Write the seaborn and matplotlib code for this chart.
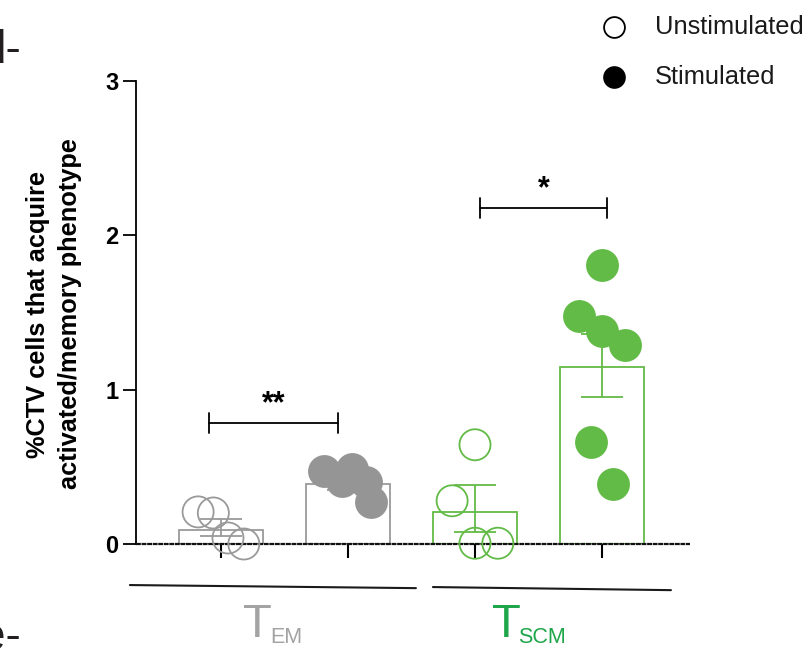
import numpy as np
import pandas as pd
import matplotlib
matplotlib.use("Agg")
import matplotlib.pyplot as plt
import seaborn as sns
from matplotlib.lines import Line2D

# ---- data ----
conditions = ["TEM Unstimulated", "TEM Stimulated", "TSCM Unstimulated", "TSCM Stimulated"]
bar_means = [0.09, 0.39, 0.21, 1.15]
err_low = [0.054, 0.35, 0.08, 0.95]
err_high = [0.162, 0.43, 0.383, 1.36]
tem_unstim = [0.208, 0.201, 0.039, 0.0]
tem_stim = [0.47, 0.485, 0.405, 0.40, 0.275]
tscm_unstim = [0.643, 0.28, 0.005, 0.005]
tscm_stim = [1.81, 1.48, 1.38, 1.29, 0.66, 0.39]
y_ticks = [0, 1, 2, 3]
legend_labels = ["Unstimulated", "Stimulated"]
group_labels = [("T", "EM"), ("T", "SCM")]
sig_labels = ["**", "*"]

# ---- styling / layout ----
GRAY = "#9a9a9a"
GRAY_FILL = "#959595"
GREEN = "#63bb47"
LABEL_GRAY = "#a3a3a3"
LABEL_GREEN = "#1fa64a"
edge_colors = [GRAY, GRAY, GREEN, GREEN]
point_series = [tem_unstim, tem_stim, tscm_unstim, tscm_stim]
point_faces = ["none", GRAY_FILL, "none", GREEN]
jitter = [
    [-0.18, -0.06, 0.055, 0.18],
    [-0.185, 0.03, -0.05, 0.14, 0.185],
    [0.0, -0.18, 0.0, 0.18],
    [0.0, -0.18, 0.0, 0.18, -0.09, 0.09],
]

sns.set_theme(style="white")
plt.rcParams["font.family"] = ["Liberation Sans", "DejaVu Sans"]

W, H = 812, 650
fig = plt.figure(figsize=(W / 100, H / 100), dpi=100)


def fx(px):
    return px / W


def fy(py):
    return 1 - py / H


ax = fig.add_axes([fx(136), fy(544), (690 - 136) / W, (544 - 81) / H])

df = pd.DataFrame({"condition": conditions, "mean": bar_means})
sns.barplot(data=df, x="condition", y="mean", order=conditions, color="white",
            width=0.66, errorbar=None, linewidth=1.3, ax=ax, zorder=1)
for patch, ec in zip(ax.patches, edge_colors):
    patch.set_facecolor("white")
    patch.set_edgecolor(ec)
    patch.set_linewidth(1.3)

# error bars
for i, (lo, hi, c) in enumerate(zip(err_low, err_high, edge_colors)):
    mid = (lo + hi) / 2
    ax.errorbar(i, mid, yerr=[[mid - lo], [hi - mid]], fmt="none", ecolor=c,
                elinewidth=1.3, capsize=15, capthick=1.3, zorder=2)

# individual points
for i, (vals, fc, ec, jit) in enumerate(zip(point_series, point_faces, edge_colors, jitter)):
    xs = [i + j for j in jit]
    sns.scatterplot(x=xs, y=vals, s=500, facecolor=fc,
                    edgecolor=ec if fc == "none" else fc,
                    linewidth=1.3, ax=ax, zorder=4, clip_on=False, legend=False)

ax.set_xlim(-0.669, 3.693)
ax.set_ylim(0, 3)
ax.set_xlabel("")
ax.set_ylabel("")
ax.set_yticks(y_ticks)
ax.set_yticklabels([str(t) for t in y_ticks], fontweight="bold", fontsize=17)
ax.set_xticks(range(len(conditions)))
ax.tick_params(axis="x", length=10, width=1.5, color="black", direction="out",
               labelbottom=False, bottom=True)
ax.tick_params(axis="y", length=9.5, width=1.3, color="black", direction="out",
               left=True, pad=3, labelcolor="black")
for s in ["top", "right", "bottom"]:
    ax.spines[s].set_visible(False)
ax.spines["left"].set_color("black")
ax.spines["left"].set_linewidth(1.3)

# dotted baseline at zero
base = ax.axhline(0, color="#111111", lw=1.6, zorder=3, clip_on=False)
base.set_dashes((2.2, 0.3))

# significance brackets
brackets = [(-0.094, 0.92, 0.787), (2.04, 3.04, 2.18)]
for (x1, x2, y), lab in zip(brackets, sig_labels):
    ax.plot([x1, x2], [y, y], color="black", lw=1.3, zorder=5)
    for xe in (x1, x2):
        ax.plot([xe, xe], [y - 0.065, y + 0.065], color="black", lw=1.3, zorder=5)
    ax.text((x1 + x2) / 2, y + 0.02, lab, ha="center", va="bottom",
            fontsize=22, fontweight="bold", color="black")

# group underlines
spans = [(-0.717, 1.535, -0.266, -0.286), (1.669, 3.543, -0.279, -0.299)]
for x1, x2, y1, y2 in spans:
    ax.plot([x1, x2], [y1, y2], color="#1a1a1a", lw=1.5, clip_on=False)

# group labels
lab_cols = [LABEL_GRAY, LABEL_GREEN]
for (big, sub), col, (tx, sx) in zip(group_labels, lab_cols, [(243, 270), (492, 518)]):
    fig.text(fx(tx), fy(637), big, fontsize=34, color=col, ha="left", va="baseline")
    fig.text(fx(sx), fy(643), sub, fontsize=15.5, color=col, ha="left", va="baseline")

# y-axis title
fig.text(fx(54), fy(314), "%CTV cells that acquire\nactivated/memory phenotype",
         rotation=90, ha="center", va="center", fontsize=18.3, fontweight="bold",
         linespacing=1.42, multialignment="center", color="black")

# legend
for lab, fc, yy in zip(legend_labels, ["white", "black"], [27, 77]):
    fig.add_artist(Line2D([fx(614)], [fy(yy)], marker="o", markersize=15,
                          markerfacecolor=fc, markeredgecolor="black",
                          markeredgewidth=1.3, linestyle="none",
                          transform=fig.transFigure))
    fig.text(fx(655), fy(yy), lab, fontsize=18.4, color="#1a1a1a",
             ha="left", va="center")

# neighbouring panel letters, partly outside the figure edge
fig.text(fx(-20), fy(63), "d-", fontsize=33, color="#231f20", ha="left", va="baseline")
fig.text(fx(-20), fy(650), "e-", fontsize=33, color="#231f20", ha="left", va="baseline")

fig.savefig("out.png", dpi=100, facecolor="white")
